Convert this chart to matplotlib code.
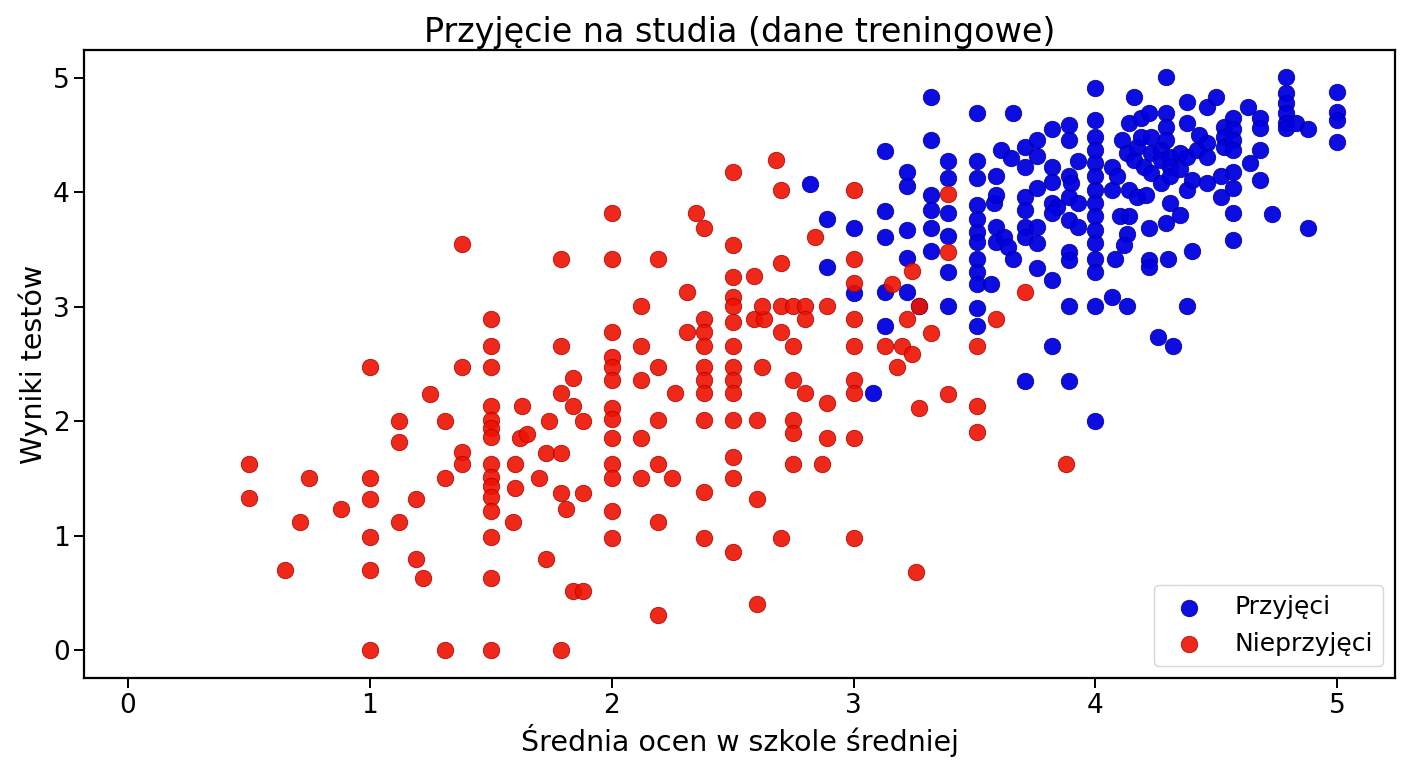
import matplotlib
matplotlib.use("Agg")
import matplotlib.pyplot as plt
import numpy as np

# punkty: (srednia ocen, wynik testu)
przyjeci = [
    (2.82, 4.07), (2.89, 3.77), (2.89, 3.35), (3.0, 3.69), (3.0, 3.12), (3.08, 2.25),
    (3.13, 4.36), (3.13, 3.84), (3.13, 3.61), (3.13, 3.13), (3.13, 2.83),
    (3.22, 4.18), (3.22, 4.06), (3.22, 3.67), (3.22, 3.43), (3.22, 3.13), (3.27, 3.01),
    (3.32, 4.83), (3.32, 4.46), (3.32, 3.98), (3.32, 3.85), (3.32, 3.69), (3.32, 3.49),
    (3.39, 4.27), (3.39, 4.13), (3.39, 3.82), (3.39, 3.62), (3.39, 3.30), (3.39, 3.01),
    (3.51, 4.69), (3.51, 4.27), (3.51, 4.13), (3.51, 3.89), (3.51, 3.77), (3.51, 3.65),
    (3.51, 3.57), (3.51, 3.42), (3.51, 3.30), (3.51, 3.20), (3.51, 2.99), (3.51, 2.83),
    (3.57, 3.20), (3.58, 3.91), (3.59, 3.98), (3.59, 4.14), (3.59, 3.70), (3.59, 3.57),
    (3.61, 4.37), (3.62, 3.61), (3.64, 3.52), (3.65, 4.30), (3.66, 4.69), (3.66, 3.42),
    (3.71, 4.40), (3.71, 4.22), (3.71, 3.96), (3.71, 3.85), (3.71, 3.70), (3.71, 3.61), (3.71, 2.35),
    (3.76, 4.46), (3.76, 4.32), (3.76, 4.04), (3.76, 3.70), (3.76, 3.56), (3.76, 3.34),
    (3.82, 4.55), (3.82, 4.22), (3.82, 4.09), (3.82, 3.91), (3.84, 3.87), (3.82, 3.82),
    (3.82, 3.23), (3.82, 2.66),
    (3.89, 4.59), (3.89, 4.46), (3.89, 4.14), (3.89, 3.96), (3.89, 3.76), (3.89, 3.48),
    (3.89, 3.41), (3.89, 3.01), (3.89, 2.35), (3.90, 4.08), (3.93, 4.27), (3.93, 3.91), (3.93, 3.70),
    (4.0, 4.91), (4.0, 4.63), (4.0, 4.48), (4.0, 4.37), (4.0, 4.26), (4.0, 4.14), (4.0, 4.02),
    (4.0, 3.91), (4.0, 3.79), (4.0, 3.67), (4.0, 3.56), (4.0, 3.42), (4.0, 3.30), (4.0, 3.01), (4.0, 2.0),
    (4.07, 4.22), (4.07, 4.02), (4.07, 3.09), (4.08, 3.42), (4.09, 4.14), (4.10, 3.79),
    (4.11, 4.46), (4.13, 4.34), (4.13, 3.64), (4.12, 3.54), (4.13, 3.01),
    (4.14, 4.61), (4.14, 4.02), (4.14, 3.79), (4.16, 4.83), (4.16, 4.28), (4.17, 4.40),
    (4.17, 3.96), (4.19, 4.65), (4.19, 4.48), (4.20, 4.22), (4.21, 3.98),
    (4.22, 4.69), (4.22, 3.69), (4.22, 3.41), (4.22, 3.35), (4.23, 4.48), (4.23, 4.34),
    (4.23, 4.17), (4.26, 2.74),
    (4.27, 4.37), (4.27, 4.28), (4.27, 4.08), (4.29, 5.01), (4.29, 4.69), (4.29, 4.57),
    (4.29, 4.46), (4.29, 3.73), (4.30, 3.42),
    (4.31, 4.31), (4.31, 4.22), (4.31, 4.14), (4.31, 3.91), (4.32, 2.66), (4.35, 4.34),
    (4.35, 4.20), (4.35, 3.80),
    (4.38, 4.79), (4.38, 4.61), (4.38, 4.31), (4.38, 4.02), (4.38, 3.01), (4.40, 4.11),
    (4.40, 3.49), (4.42, 4.37), (4.43, 4.50),
    (4.46, 4.75), (4.46, 4.43), (4.46, 4.31), (4.46, 4.08), (4.50, 4.83), (4.52, 4.14), (4.52, 3.96),
    (4.53, 4.57), (4.53, 4.48), (4.53, 4.40), (4.57, 4.65), (4.57, 4.55), (4.57, 4.46),
    (4.57, 4.37), (4.57, 4.18), (4.57, 4.04), (4.57, 3.82), (4.57, 3.58),
    (4.63, 4.75), (4.64, 4.26), (4.68, 4.65), (4.68, 4.56), (4.68, 4.37), (4.68, 4.11), (4.73, 3.81),
    (4.79, 5.01), (4.79, 4.87), (4.79, 4.78), (4.79, 4.69), (4.79, 4.61), (4.79, 4.56),
    (4.83, 4.61), (4.88, 4.55), (4.88, 3.69),
    (5.0, 4.88), (5.0, 4.70), (5.0, 4.63), (5.0, 4.44),
]

nieprzyjeci = [
    (0.5, 1.63), (0.5, 1.33), (0.65, 0.70), (0.71, 1.12), (0.75, 1.50), (0.88, 1.23),
    (1.0, 2.47), (1.0, 1.50), (1.0, 1.32), (1.0, 0.99), (1.0, 0.70), (1.0, 0.0),
    (1.12, 2.0), (1.12, 1.82), (1.12, 1.12), (1.19, 1.32), (1.19, 0.80), (1.22, 0.63), (1.25, 2.24),
    (1.31, 2.0), (1.31, 1.50), (1.31, 0.0), (1.38, 3.55), (1.38, 2.47), (1.38, 1.73), (1.38, 1.63),
    (1.5, 2.89), (1.5, 2.66), (1.5, 2.47), (1.5, 2.13), (1.5, 2.01), (1.5, 1.94), (1.5, 1.86),
    (1.5, 1.63), (1.5, 1.51), (1.5, 1.43), (1.5, 1.34), (1.5, 1.22), (1.5, 0.99), (1.5, 0.63), (1.5, 0.0),
    (1.59, 1.12), (1.60, 1.63), (1.60, 1.42), (1.62, 1.85), (1.65, 1.89), (1.63, 2.13),
    (1.70, 1.50), (1.73, 1.72), (1.73, 0.80), (1.74, 2.0),
    (1.79, 3.42), (1.79, 2.66), (1.79, 2.25), (1.79, 1.72), (1.79, 1.37), (1.79, 0.0),
    (1.81, 1.23), (1.84, 2.38), (1.84, 2.13), (1.84, 0.52), (1.88, 0.52), (1.88, 2.0), (1.88, 1.37),
    (2.0, 3.82), (2.0, 3.42), (2.0, 2.78), (2.0, 2.56), (2.0, 2.47), (2.0, 2.36), (2.0, 2.12),
    (2.0, 2.02), (2.0, 1.85), (2.0, 1.63), (2.0, 1.50), (2.0, 1.22), (2.0, 0.98),
    (2.12, 3.01), (2.12, 2.66), (2.12, 2.36), (2.12, 1.85), (2.12, 1.50),
    (2.19, 3.42), (2.19, 2.47), (2.19, 2.01), (2.19, 1.63), (2.19, 1.12), (2.19, 0.31),
    (2.25, 1.50), (2.26, 2.25), (2.31, 3.13), (2.31, 2.78), (2.35, 3.82), (2.38, 3.69),
    (2.38, 2.89), (2.38, 2.78), (2.38, 2.66), (2.38, 2.47), (2.38, 2.36), (2.38, 2.25),
    (2.38, 2.01), (2.38, 1.38), (2.38, 0.98),
    (2.5, 4.18), (2.5, 3.54), (2.5, 3.26), (2.5, 3.09), (2.5, 3.01), (2.5, 2.87), (2.5, 2.66),
    (2.5, 2.47), (2.5, 2.36), (2.5, 2.25), (2.5, 2.01), (2.5, 1.69), (2.5, 1.50), (2.5, 0.86),
    (2.59, 3.27), (2.59, 2.89), (2.63, 2.89), (2.62, 3.01), (2.62, 2.47), (2.60, 2.01),
    (2.60, 1.32), (2.60, 0.40),
    (2.68, 4.28), (2.70, 4.02), (2.70, 3.38), (2.70, 3.01), (2.70, 2.78), (2.70, 0.98),
    (2.75, 3.01), (2.75, 2.66), (2.75, 2.36), (2.75, 2.01), (2.75, 1.90), (2.75, 1.63),
    (2.80, 3.01), (2.80, 2.89), (2.80, 2.25), (2.84, 3.61), (2.87, 1.63), (2.89, 3.01),
    (2.89, 2.16), (2.89, 1.85),
    (3.0, 4.02), (3.0, 3.42), (3.0, 3.21), (3.0, 2.89), (3.0, 2.66), (3.0, 2.36), (3.0, 2.25),
    (3.0, 1.85), (3.0, 0.98),
    (3.13, 2.66), (3.16, 3.20), (3.18, 2.47), (3.20, 2.66), (3.22, 2.89), (3.24, 3.31),
    (3.24, 2.59), (3.27, 2.12), (3.26, 0.68), (3.27, 3.01), (3.32, 2.77), (3.39, 3.99),
    (3.39, 3.48), (3.39, 2.24), (3.51, 2.66), (3.51, 2.13), (3.51, 1.91), (3.59, 2.89),
    (3.71, 3.13), (3.88, 1.63),
]

p = np.array(przyjeci)
n = np.array(nieprzyjeci)

fig, ax = plt.subplots(figsize=(14.08, 7.68), dpi=100)
fig.subplots_adjust(left=0.060, right=0.991, bottom=0.117, top=0.935)

ax.scatter(p[:, 0], p[:, 1], s=140, color='#0000e0', edgecolors='#0000a0',
           linewidths=0.6, alpha=0.95, label='Przyjęci')
ax.scatter(n[:, 0], n[:, 1], s=140, color='#ee1100', edgecolors='#b00000',
           linewidths=0.6, alpha=0.9, label='Nieprzyjęci')

ax.set_xlim(-0.18, 5.24)
ax.set_ylim(-0.245, 5.245)
ax.set_xticks([0, 1, 2, 3, 4, 5])
ax.set_yticks([0, 1, 2, 3, 4, 5])
ax.tick_params(labelsize=19, length=7, width=1.4)
for s in ax.spines.values():
    s.set_linewidth(1.6)

ax.set_title("Przyjęcie na studia (dane treningowe)", fontsize=24)
ax.set_xlabel("Średnia ocen w szkole średniej", fontsize=20.5)
ax.set_ylabel("Wyniki testów", fontsize=20.5)
ax.legend(loc='lower right', fontsize=18)

plt.savefig("out.png")
